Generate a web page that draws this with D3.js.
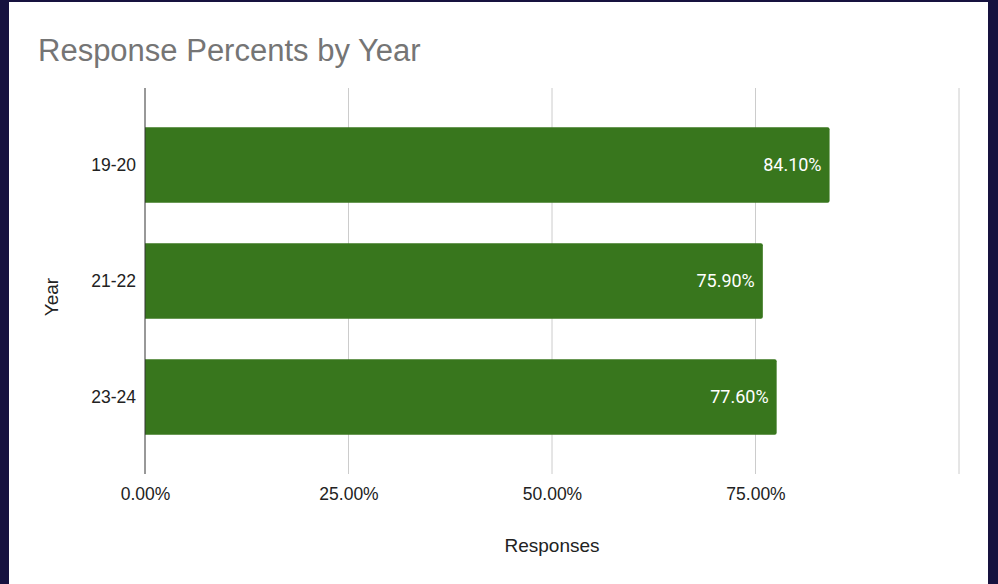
<!DOCTYPE html>
<meta charset="utf-8">
<style>
body { margin: 0; background: #16123f; }
svg { display: block; }
.tick text { font-family: "Liberation Sans", Arial, sans-serif; font-size: 17.5px; fill: #222; }
</style>
<svg width="998" height="584"></svg>
<script src="https://d3js.org/d3.v7.min.js"></script>
<script>
var years = ["19-20", "21-22", "23-24"];
var percents = [84.1, 75.9, 77.6];
var xTicks = [0, 25, 50, 75, 100];

var svg = d3.select("svg");

// white chart card inside the dark frame
svg.append("rect")
    .attr("x", 9).attr("y", 2)
    .attr("width", 979).attr("height", 582)
    .attr("fill", "#fff");

var x = d3.scaleLinear().domain([0, 100]).range([145, 959]);
var y = d3.scaleBand().domain(years).range([107, 455]).paddingInner(0.35).paddingOuter(0.175);
var plotTop = 88, plotBottom = 474;

svg.append("g")
  .selectAll("line")
  .data(xTicks.slice(1))
  .enter().append("line")
    .attr("x1", d => x(d)).attr("x2", d => x(d))
    .attr("y1", plotTop).attr("y2", plotBottom)
    .attr("stroke", "#ccc");

svg.append("g")
  .selectAll("path")
  .data(percents)
  .enter().append("path")
    .attr("fill", "#38761d")
    .attr("d", function(d, i) {
      var x0 = x(0), x1 = x(d), y0 = y(years[i]), h = y.bandwidth(), r = 2;
      return "M" + x0 + "," + y0 + "H" + (x1 - r) + "Q" + x1 + "," + y0 + " " + x1 + "," + (y0 + r) +
        "V" + (y0 + h - r) + "Q" + x1 + "," + (y0 + h) + " " + (x1 - r) + "," + (y0 + h) + "H" + x0 + "Z";
    });

svg.append("g")
  .selectAll("text")
  .data(percents)
  .enter().append("text")
    .attr("x", d => x(d) - 8)
    .attr("y", (d, i) => y(years[i]) + y.bandwidth() / 2)
    .attr("dy", "0.35em")
    .attr("text-anchor", "end")
    .attr("fill", "#fff")
    .style("font-family", "Roboto, sans-serif")
    .style("font-size", "18px")
    .text(d => d.toFixed(2) + "%");

// zero axis line
svg.append("line")
    .attr("x1", x(0)).attr("x2", x(0))
    .attr("y1", plotTop).attr("y2", plotBottom)
    .attr("stroke", "#333");

var xAxis = svg.append("g")
    .attr("transform", "translate(0," + plotBottom + ")")
    .call(d3.axisBottom(x).tickValues(xTicks.slice(0, 4)).tickSize(0).tickPadding(14)
      .tickFormat(d => d.toFixed(2) + "%"));
xAxis.select(".domain").remove();

var yAxis = svg.append("g")
    .attr("transform", "translate(" + x(0) + ",0)")
    .call(d3.axisLeft(y).tickSize(0).tickPadding(9));
yAxis.select(".domain").remove();

svg.append("text")
    .attr("x", 38).attr("y", 61)
    .attr("fill", "#757575")
    .style("font-family", "'Liberation Sans', Arial, sans-serif")
    .style("font-size", "31px")
    .text("Response Percents by Year");

svg.append("text")
    .attr("x", 552).attr("y", 552)
    .attr("text-anchor", "middle")
    .attr("fill", "#222")
    .style("font-family", "'Liberation Sans', Arial, sans-serif")
    .style("font-size", "19px")
    .text("Responses");

svg.append("text")
    .attr("transform", "translate(58,297) rotate(-90)")
    .attr("text-anchor", "middle")
    .attr("fill", "#222")
    .style("font-family", "'Liberation Sans', Arial, sans-serif")
    .style("font-size", "19px")
    .text("Year");
</script>
